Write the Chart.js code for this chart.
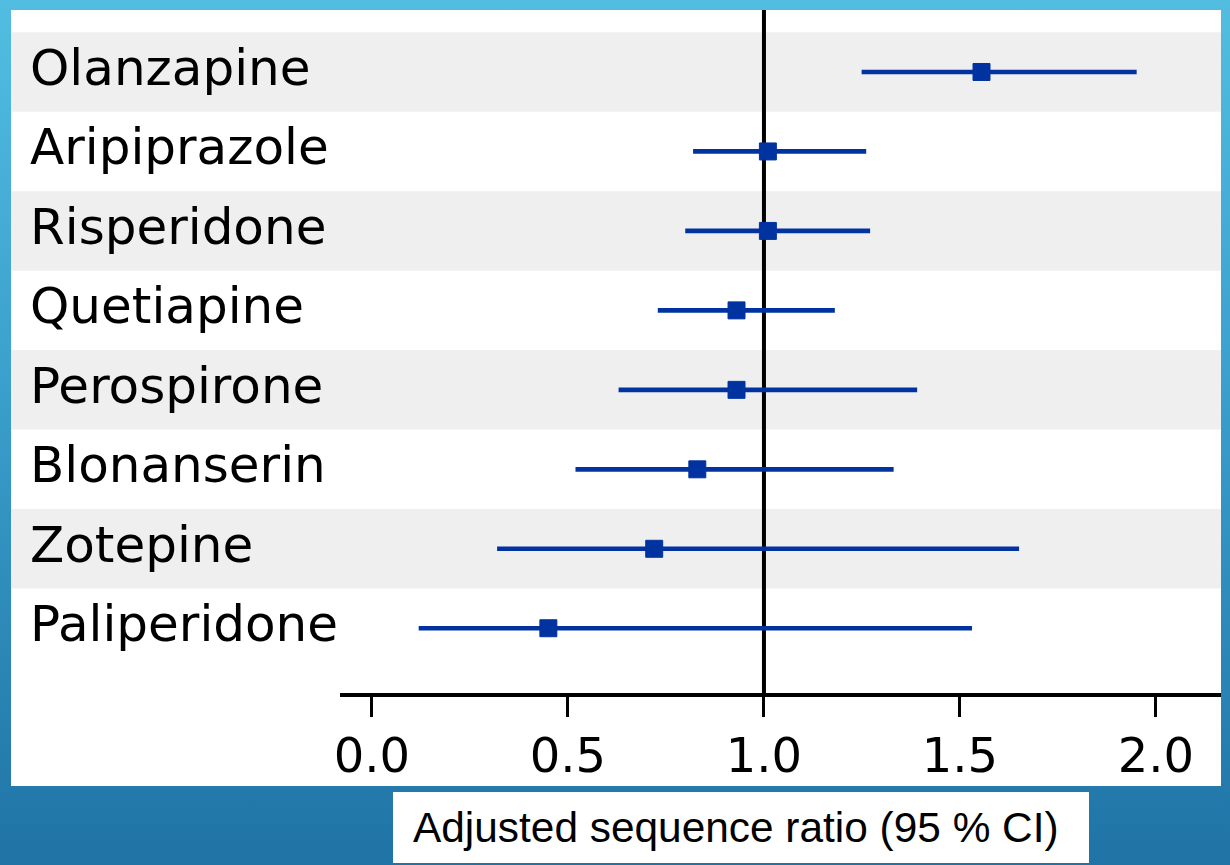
<!DOCTYPE html>
<html>
<head>
<meta charset="utf-8">
<script src="https://cdn.jsdelivr.net/npm/chart.js@4.4.1/dist/chart.umd.min.js"></script>
<style>
  html, body { margin: 0; padding: 0; }
  body { width: 1230px; height: 865px; position: relative; overflow: hidden;
         background: linear-gradient(to bottom, #52bde1 0%, #3a9fcc 45%, #1f73a5 100%); }
  #panel { position: absolute; left: 11px; top: 10px; width: 1210px; height: 776px; background: #ffffff; }
  #panel canvas { position: absolute; left: 0; top: 0; }
  #caption { position: absolute; left: 393px; top: 792px; width: 696px; height: 71px; background: #ffffff;
             font-family: "Liberation Sans", Arial, sans-serif; font-size: 42.4px; color: #000;
             line-height: 71px; padding-left: 20px; box-sizing: border-box; white-space: nowrap; }
</style>
</head>
<body>
<div id="panel"><canvas id="c" width="1210" height="776"></canvas></div>
<div id="caption">Adjusted sequence ratio (95 % CI)</div>
<script>
const categories = ["Olanzapine", "Aripiprazole", "Risperidone", "Quetiapine", "Perospirone", "Blonanserin", "Zotepine", "Paliperidone"];
const estimates = [1.555, 1.01, 1.01, 0.93, 0.93, 0.83, 0.72, 0.45];
const lowerCI   = [1.25, 0.82, 0.80, 0.73, 0.63, 0.52, 0.32, 0.12];
const upperCI   = [1.95, 1.26, 1.27, 1.18, 1.39, 1.33, 1.65, 1.53];
const xTicks    = [0.0, 0.5, 1.0, 1.5, 2.0];
const referenceValue = 1.0;

const BLUE = '#0033a0';
const FONT = '"DejaVu Sans", sans-serif';

const bandsPlugin = {
  id: 'bands',
  beforeDraw(chart) {
    const ctx = chart.ctx, y = chart.scales.y;
    ctx.save();
    ctx.fillStyle = '#efefef';
    categories.forEach((c, i) => {
      if (i % 2 === 0) {
        const y1 = y.getPixelForValue(i - 0.5), y2 = y.getPixelForValue(i + 0.5);
        ctx.fillRect(0, Math.min(y1, y2), chart.width, Math.abs(y2 - y1));
      }
    });
    ctx.restore();
  }
};
const refLinePlugin = {
  id: 'refline',
  beforeDatasetsDraw(chart) {
    const ctx = chart.ctx, x = chart.scales.x, a = chart.chartArea;
    const px = x.getPixelForValue(referenceValue);
    ctx.save();
    ctx.strokeStyle = '#000';
    ctx.lineWidth = 4;
    ctx.beginPath();
    ctx.moveTo(px, 0);
    ctx.lineTo(px, a.bottom);
    ctx.stroke();
    ctx.restore();
  }
};

new Chart(document.getElementById('c'), {
  data: {
    datasets: [
      {
        type: 'scatter',
        data: categories.map((c, i) => ({ x: estimates[i], y: i })),
        pointStyle: 'rect',
        pointRadius: 12,
        pointHoverRadius: 12,
        backgroundColor: BLUE,
        borderColor: BLUE,
        borderWidth: 1,
        order: 0
      },
      {
        type: 'bar',
        indexAxis: 'y',
        data: categories.map((c, i) => ({ x: [lowerCI[i], upperCI[i]], y: i })),
        backgroundColor: BLUE,
        borderWidth: 0,
        barThickness: 4,
        order: 1
      }
    ]
  },
  options: {
    responsive: false,
    animation: false,
    devicePixelRatio: 1,
    layout: { autoPadding: false, padding: { left: 19, right: 0, top: 0, bottom: 0 } },
    plugins: { legend: { display: false }, tooltip: { enabled: false } },
    scales: {
      x: {
        type: 'linear',
        position: 'bottom',
        offset: false,
        min: -0.0765,
        max: 2.166,
        afterBuildTicks(scale) { scale.ticks = xTicks.map(v => ({ value: v })); },
        ticks: { callback: v => Number(v).toFixed(1), color: '#000', font: { family: FONT, size: 48 }, padding: 14, maxRotation: 0, autoSkip: false },
        grid: { display: true, offset: false, drawOnChartArea: false, drawTicks: true, tickLength: 22, tickWidth: 3, tickColor: '#000' },
        border: { display: true, color: '#000', width: 4 },
        afterFit(scale) { scale.height = 91; scale.paddingLeft = 0; scale.paddingRight = 0; }
      },
      y: {
        type: 'linear',
        position: 'left',
        offset: false,
        reverse: true,
        min: -0.78,
        max: 7.84,
        afterBuildTicks(scale) { scale.ticks = categories.map((c, i) => ({ value: i })); },
        ticks: { callback: v => categories[v] ?? '', color: '#000', font: { family: FONT, size: 50 }, crossAlign: 'far', padding: 0, autoSkip: false },
        grid: { display: false, offset: false },
        border: { display: false },
        afterFit(scale) { scale.width = 312; scale.paddingTop = 0; scale.paddingBottom = 0; }
      }
    }
  },
  plugins: [bandsPlugin, refLinePlugin]
});
</script>
</body>
</html>
